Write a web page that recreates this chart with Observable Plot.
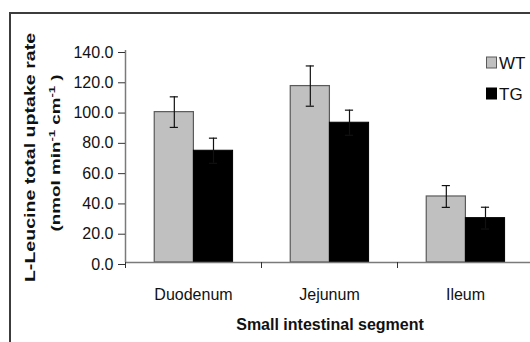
<!DOCTYPE html>
<html>
<head>
<meta charset="utf-8">
<script src="https://cdn.jsdelivr.net/npm/d3@7"></script>
<script src="https://cdn.jsdelivr.net/npm/@observablehq/plot@0.6"></script>
<style>
  html, body { margin: 0; padding: 0; background: #fff; overflow: hidden; }
  #wrap { position: relative; width: 530px; height: 342px; overflow: hidden; }
  #frame { position: absolute; left: 9px; top: 12px; width: 700px; height: 500px; border: 2.5px solid #3c3c3c; box-sizing: border-box; }
  #wrap svg { position: absolute; left: 0; top: 0; }
</style>
</head>
<body>
<div id="wrap"><div id="frame"></div></div>
<script>
// ---- data ----
const segments = ["Duodenum", "Jejunum", "Ileum"];
const groups = ["WT", "TG"];
const wtMeans = [99.3, 116.5, 43.6];
const wtErrors = [10.1, 13.3, 7.2];
const tgMeans = [73.8, 92.3, 29.3];
const tgErrors = [8.3, 8.3, 7.2];
const yTicks = [0, 20, 40, 60, 80, 100, 120, 140];
const xLabel = "Small intestinal segment";
const yTitle = "L-Leucine total uptake rate";

// ---- table ----
const rows = [];
segments.forEach((s, i) => {
  rows.push({segment: s, index: i, group: "WT", mean: wtMeans[i], err: wtErrors[i]});
  rows.push({segment: s, index: i, group: "TG", mean: tgMeans[i], err: tgErrors[i]});
});
const barOffset = {WT: 0.215, TG: 0.503};
const barWidth = 0.288;
const left = d => d.index + barOffset[d.group];
const right = d => left(d) + barWidth;
const mid = d => left(d) + barWidth / 2;
const boundaries = d3.range(segments.length + 1);
const centers = segments.map((_, i) => i + 0.5);

const chart = Plot.plot({
  width: 530,
  height: 342,
  marginLeft: 125,
  marginRight: 0,
  marginTop: 50,
  marginBottom: 80,
  style: {fontFamily: "'Liberation Sans', Arial, sans-serif", background: "transparent", overflow: "visible", color: "#111"},
  x: {domain: [0, segments.length], range: [125, 533], axis: null},
  y: {domain: [0, 140], axis: null},
  marks: [
    Plot.rectY(rows.filter(d => d.group === "WT"), {x1: left, x2: right, y1: 0, y2: "mean", fill: "#c0c0c0", stroke: "#5a5a5a", strokeWidth: 1.2}),
    Plot.rectY(rows.filter(d => d.group === "TG"), {x1: left, x2: right, y1: 0, y2: "mean", fill: "#000", stroke: "#000", strokeWidth: 1}),
    Plot.ruleX(rows, {x: mid, y1: d => d.mean - d.err, y2: d => d.mean + d.err, stroke: "#111", strokeWidth: 1.2}),
    Plot.ruleY(rows, {y: d => d.mean + d.err, x1: d => mid(d) - 0.03, x2: d => mid(d) + 0.03, stroke: "#111", strokeWidth: 1.2}),
    Plot.ruleY(rows, {y: d => d.mean - d.err, x1: d => mid(d) - 0.03, x2: d => mid(d) + 0.03, stroke: "#111", strokeWidth: 1.2}),
    Plot.ruleX([0], {y1: 0, y2: 140, stroke: "#7a7a7a", strokeWidth: 1.5}),
    Plot.ruleY([0], {stroke: "#7a7a7a", strokeWidth: 1.5}),
    Plot.axisY({ticks: yTicks, tickFormat: d => d.toFixed(1), tickSize: 7, tickPadding: 5, fontSize: 16, dy: 2, label: null, stroke: "#333"}),
    Plot.axisX({ticks: boundaries, tickFormat: () => "", tickSize: 6, label: null, stroke: "#333"}),
    Plot.axisX({ticks: centers, tickFormat: v => segments[Math.floor(v)], tickSize: 0, tickPadding: 26, fontSize: 16, label: null}),
    Plot.text([xLabel], {text: d => d, frameAnchor: "bottom", dx: 2, dy: 67, fontSize: 16, fontWeight: "bold", fill: "#111"})
  ]
});
document.getElementById("wrap").appendChild(chart);

// y-axis title (two lines, rotated)
const svg = d3.select(chart);
svg.append("text")
  .attr("transform", "translate(35,157.5) rotate(-90) scale(1.4,1)")
  .attr("text-anchor", "middle")
  .attr("font-weight", "bold")
  .attr("font-size", 14)
  .attr("fill", "#111")
  .text(yTitle);
const t2 = svg.append("text")
  .attr("transform", "translate(60,153) rotate(-90) scale(1.45,1)")
  .attr("text-anchor", "middle")
  .attr("font-weight", "bold")
  .attr("font-size", 13)
  .attr("fill", "#111");
t2.append("tspan").text("(nmol min");
t2.append("tspan").attr("font-size", 9).attr("dy", -5).text("-1");
t2.append("tspan").attr("dy", 5).text(" cm");
t2.append("tspan").attr("font-size", 9).attr("dy", -5).text("-1");
t2.append("tspan").attr("dy", 5).text(" )");

// legend
const legendFill = {WT: "#c0c0c0", TG: "#000"};
const legendStroke = {WT: "#5a5a5a", TG: "#000"};
groups.forEach((g, i) => {
  const y0 = 57 + i * 31;
  svg.append("rect").attr("x", 486.5).attr("y", y0).attr("width", 10).attr("height", 11)
    .attr("fill", legendFill[g]).attr("stroke", legendStroke[g]).attr("stroke-width", 1);
  svg.append("text").attr("x", 499).attr("y", y0 + 12).attr("text-anchor", "start")
    .attr("font-size", 17).attr("fill", "#111").text(g);
});
</script>
</body>
</html>
